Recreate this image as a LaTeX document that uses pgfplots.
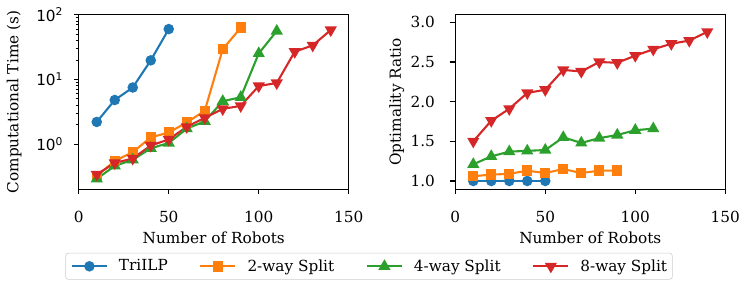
\documentclass[border=0pt]{standalone}
\usepackage{fontspec}
\setmainfont{DejaVu Serif}
\newfontfamily\dvsans{DejaVu Sans}
\usepackage{pgfplots}
\pgfplotsset{compat=1.18}
\definecolor{tblue}{HTML}{1F77B4}
\definecolor{torange}{HTML}{FF7F0E}
\definecolor{tgreen}{HTML}{2CA02C}
\definecolor{tred}{HTML}{D62728}
\pgfplotsset{
  base/.style={
    width=194.4pt, height=125.7pt, scale only axis,
    xmin=0, xmax=150, xtick={0,50,100,150},
    tick pos=left, tick align=outside,
    major tick length=3.5pt, minor tick length=2pt,
    every tick/.style={black, line width=0.8pt},
    every minor tick/.style={black, line width=0.6pt},
    axis line style={line width=0.8pt},
    /pgf/number format/assume math mode=true,
    tick label style={font=\fontsize{11}{13}\selectfont, inner sep=0pt},
    xticklabel style={anchor=base, yshift=-20.1pt},
    xlabel={Number of Robots},
    every axis x label/.style={at={(rel axis cs:0.5,-0.275)}, anchor=center, font=\fontsize{11}{13}\selectfont},
    every axis plot/.append style={line width=1.5pt},
  },
  sb/.style={tblue, mark=*, mark size=3pt, mark options={solid, fill=tblue}},
  so/.style={torange, mark=square*, mark size=3pt, mark options={solid, fill=torange}},
  sg/.style={tgreen, mark=triangle*, mark size=3.6pt, mark options={solid, fill=tgreen}},
  sr/.style={tred, mark=triangle*, mark size=3.6pt, mark options={solid, fill=tred, rotate=180}},
}
\begin{document}
\begin{tikzpicture}
\useasboundingbox (0,0) rectangle (537.84pt,208.8pt);
\begin{axis}[base,
  at={(56.7pt,72.5pt)}, anchor=south west,
  ymode=log, ymin=0.2, ymax=100,
  ytick={1,10,100},
  yticklabels={{\dvsans 10\textsuperscript{0}},{\dvsans 10\textsuperscript{1}},{\dvsans 10\textsuperscript{2}}},
  yticklabel style={anchor=east, xshift=-7.5pt},
  ylabel={Computational Time (s)},
  every axis y label/.style={at={(rel axis cs:-0.2396,0.5)}, anchor=center, rotate=90, font=\fontsize{11}{13}\selectfont},
  legend columns=4,
  legend style={at={(1.075,-0.441)}, anchor=center, draw=black!20, rounded corners=2pt,
    font=\fontsize{11}{13}\selectfont, inner xsep=3.8pt, inner ysep=4.5pt,
    nodes={inner sep=0pt},
    /tikz/every odd column/.append style={column sep=7.9pt},
    /tikz/every even column/.append style={column sep=22.8pt}},
  legend image code/.code={\draw[mark repeat=2,mark phase=2] plot coordinates {(0pt,0pt) (12.6pt,0pt) (25.2pt,0pt)};},
]
\addplot[sb] coordinates {(10,2.2) (20,4.8) (30,7.5) (40,19.7) (50,60)};
\addlegendentry{TriILP}
\addplot[so] coordinates {(10,0.32) (20,0.55) (30,0.75) (40,1.27) (50,1.51) (60,2.16) (70,3.27) (80,29.4) (90,63)};
\addlegendentry{2-way Split}
\addplot[sg] coordinates {(10,0.29) (20,0.46) (30,0.57) (40,0.86) (50,1.04) (60,1.73) (70,2.25) (80,4.6) (90,5.3) (100,25.2) (110,56)};
\addlegendentry{4-way Split}
\addplot[sr] coordinates {(10,0.34) (20,0.51) (30,0.6) (40,0.95) (50,1.18) (60,1.85) (70,2.55) (80,3.5) (90,3.9) (100,7.9) (110,8.8) (120,26.8) (130,33.6) (140,58)};
\addlegendentry{8-way Split}
\end{axis}
\begin{axis}[base,
  at={(327.8pt,72.5pt)}, anchor=south west,
  ymin=0.895, ymax=3.096,
  ytick={1,1.5,2,2.5,3},
  yticklabel style={anchor=east, xshift=-11pt, /pgf/number format/.cd, fixed, fixed zerofill, precision=1},
  ylabel={Optimality Ratio},
  every axis y label/.style={at={(rel axis cs:-0.217,0.5)}, anchor=center, rotate=90, font=\fontsize{11}{13}\selectfont},
]
\addplot[sb] coordinates {(10,1.0) (20,1.0) (30,1.0) (40,1.0) (50,1.0)};
\addplot[so] coordinates {(10,1.06) (20,1.08) (30,1.09) (40,1.13) (50,1.10) (60,1.15) (70,1.10) (80,1.13) (90,1.13)};
\addplot[sg] coordinates {(10,1.21) (20,1.31) (30,1.37) (40,1.38) (50,1.39) (60,1.55) (70,1.48) (80,1.54) (90,1.58) (100,1.64) (110,1.66)};
\addplot[sr] coordinates {(10,1.50) (20,1.76) (30,1.91) (40,2.11) (50,2.15) (60,2.40) (70,2.38) (80,2.50) (90,2.49) (100,2.58) (110,2.66) (120,2.73) (130,2.77) (140,2.88)};
\end{axis}
\end{tikzpicture}
\end{document}
